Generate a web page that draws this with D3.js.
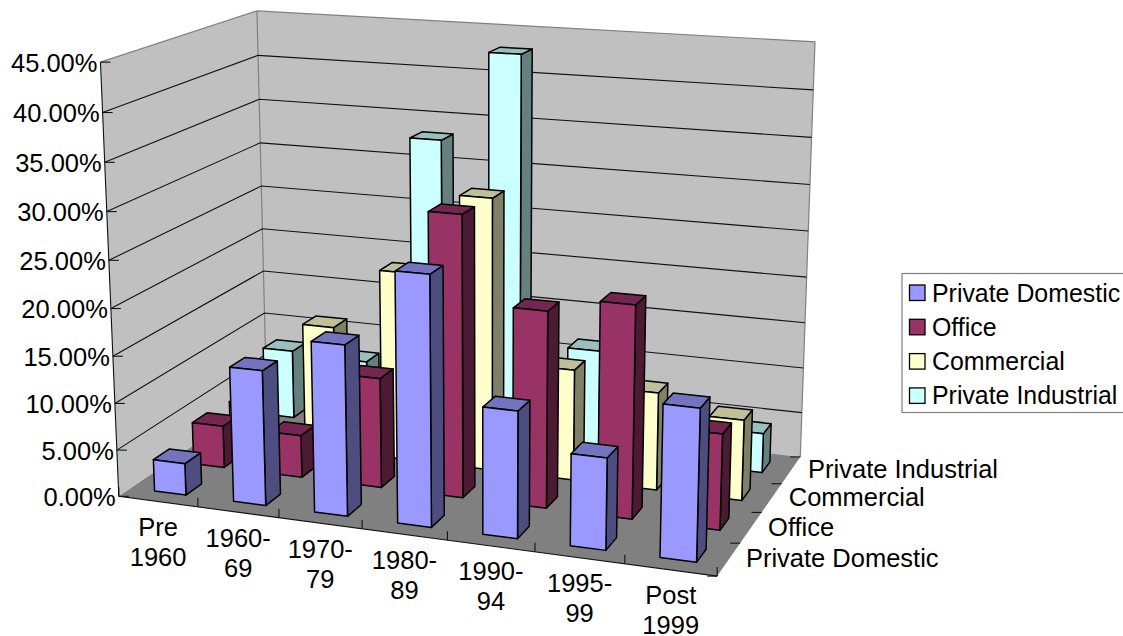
<!DOCTYPE html>
<html><head><meta charset="utf-8">
<script src="https://cdn.jsdelivr.net/npm/d3@7"></script>
<style>
html,body{margin:0;padding:0;background:#fff;overflow:hidden}
text{font-family:"Liberation Sans",Arial,sans-serif;font-size:25.5px;fill:#000}
text.legend-label{font-size:24.9px}
</style></head><body>
<svg id="chart" width="1123" height="636"></svg>
<script>
const categories = [["Pre","1960"],["1960-","69"],["1970-","79"],["1980-","89"],["1990-","94"],["1995-","99"],["Post","1999"]];
const seriesNames = ["Private Domestic","Office","Commercial","Private Industrial"];
const privateDomestic = [3.4,14.3,17.9,25.9,13.1,9.4,15.4];
const office = [4.6,4.6,11.8,29.8,20.7,22.2,10.0];
const commercial = [4.2,13.9,20.7,29.5,12.0,10.5,8.6];
const privateIndustrial = [7.8,7.5,33.2,43.0,11.5,5.0,4.3];
const seriesValues = [privateDomestic,office,commercial,privateIndustrial];
const yTicks = [0,5,10,15,20,25,30,35,40,45];

// face colours per series: front, top, side
const palette = [
  ["#9999FF","#7373BF","#4D4D80"],
  ["#993366","#732650","#4D1A33"],
  ["#FFFFCC","#BFBF99","#808066"],
  ["#CCFFFF","#99BFBF","#668080"]
];

// Perspective box: unit-cube corners (u along categories, v into depth, h up) and where they land.
const anchors = [
  [0,0,0,118.3,495],[1,0,0,717.5,577],[0,1,0,267,397],[1,1,0,800,456],
  [0,0,1,100.7,62.7],[0,1,1,256.7,10.3],[1,1,1,815,42]
];

function solveLinear(A,b){
  const n=b.length, M=A.map((r,i)=>[...r,b[i]]);
  for(let c=0;c<n;c++){
    let p=c; for(let r=c+1;r<n;r++) if(Math.abs(M[r][c])>Math.abs(M[p][c])) p=r;
    [M[c],M[p]]=[M[p],M[c]];
    for(let r=0;r<n;r++){ if(r===c) continue;
      const f=M[r][c]/M[c][c];
      for(let k=c;k<=n;k++) M[r][k]-=f*M[c][k];
    }
  }
  return M.map((r,i)=>r[n]/r[i]);
}
// Least-squares fit of the 11 projective coefficients
function fitCamera(pts){
  const rows=[],rhs=[];
  pts.forEach(([u,v,h,x,y])=>{
    rows.push([u,v,h,1,0,0,0,0,-x*u,-x*v,-x*h]); rhs.push(x);
    rows.push([0,0,0,0,u,v,h,1,-y*u,-y*v,-y*h]); rhs.push(y);
  });
  const N=d3.range(11).map(i=>d3.range(11).map(j=>d3.sum(rows,r=>r[i]*r[j])));
  const B=d3.range(11).map(i=>d3.sum(rows,(r,k)=>r[i]*rhs[k]));
  return solveLinear(N,B);
}
const cam=fitCamera(anchors);
const project=(u,v,h)=>{
  const w=cam[8]*u+cam[9]*v+cam[10]*h+1;
  return [(cam[0]*u+cam[1]*v+cam[2]*h+cam[3])/w,(cam[4]*u+cam[5]*v+cam[6]*h+cam[7])/w];
};

const catIdx=d3.range(categories.length), serIdx=d3.range(seriesNames.length);
const uScale=d3.scaleBand().domain(catIdx).range([0,1]).paddingInner(0.6).paddingOuter(0.3);
const vScale=d3.scaleBand().domain(serIdx).range([0,1]).paddingInner(0.6).paddingOuter(0.3);
const hScale=d3.scaleLinear().domain([0,45]).range([0,1]);

const svg=d3.select("#chart");
const poly=pts=>pts.map(p=>p.map(n=>n.toFixed(2)).join(",")).join(" ");
const line=d3.line();

// Walls and floor
const walls=svg.append("g");
walls.append("polygon").attr("points",poly([project(0,0,0),project(0,1,0),project(0,1,1),project(0,0,1)])).attr("fill","#C0C0C0");
walls.append("polygon").attr("points",poly([project(0,1,0),project(1,1,0),project(1,1,1),project(0,1,1)])).attr("fill","#C0C0C0");
walls.append("polygon").attr("points",poly([project(0,0,0),project(1,0,0),project(1,1,0),project(0,1,0)])).attr("fill","#808080");
walls.append("path").attr("d",line([project(0,0,1),project(0,1,1),project(1,1,1),project(1,1,0)]))
  .attr("fill","none").attr("stroke","#808080").attr("stroke-width",1.2);
walls.append("path").attr("d",line([project(0,1,1),project(0,1,0)]))
  .attr("fill","none").attr("stroke","#808080").attr("stroke-width",1.2);

// Gridlines wrap the left and back walls
yTicks.filter(t=>t>0&&t<45).forEach(t=>{
  const h=hScale(t);
  svg.append("path").attr("d",line([project(0,0,h),project(0,1,h),project(1,1,h)]))
    .attr("fill","none").attr("stroke","#111").attr("stroke-width",1.1);
});

// Axis lines and ticks
const axes=svg.append("g").attr("stroke","#111").attr("stroke-width",1.1).attr("fill","none");
axes.append("path").attr("d",line([project(0,0,1),project(0,0,0),project(1,0,0)]));
yTicks.forEach(t=>{
  const [x,y]=project(0,0,hScale(t));
  axes.append("path").attr("d",line([[x,y],[x+10,y]]));
});
d3.range(categories.length+1).forEach(i=>{
  const [x,y]=project(i/categories.length,0,0);
  axes.append("path").attr("d",line([[x,y],[x,y-9]]));
});
d3.range(seriesNames.length+1).forEach(i=>{
  const [x,y]=project(1,i/seriesNames.length,0);
  axes.append("path").attr("d",line([[x,y],[x-10,y]]));
});

// Bars, deepest series first and left to right within a series
const bars=svg.append("g").attr("stroke","#000").attr("stroke-width",1.5).attr("stroke-linejoin","round");
[...serIdx].reverse().forEach(s=>{
  catIdx.forEach(c=>{
    const u0=uScale(c),u1=u0+uScale.bandwidth(),v0=vScale(s),v1=v0+vScale.bandwidth(),h=hScale(seriesValues[s][c]);
    const [front,top,side]=palette[s];
    bars.append("polygon").attr("fill",side).attr("points",poly([project(u1,v0,0),project(u1,v1,0),project(u1,v1,h),project(u1,v0,h)]));
    bars.append("polygon").attr("fill",top).attr("points",poly([project(u0,v0,h),project(u1,v0,h),project(u1,v1,h),project(u0,v1,h)]));
    bars.append("polygon").attr("fill",front).attr("points",poly([project(u0,v0,0),project(u1,v0,0),project(u1,v0,h),project(u0,v0,h)]));
  });
});

// Value labels
yTicks.forEach(t=>{
  const [x,y]=project(0,0,hScale(t));
  svg.append("text").attr("x",x-3).attr("y",y+9.5).attr("text-anchor","end").text(t.toFixed(2)+"%");
});
// Category labels, two lines under the front edge
catIdx.forEach(c=>{
  const [x,y]=project(uScale(c)+uScale.bandwidth()/2,0,0);
  const t=svg.append("text").attr("text-anchor","middle");
  categories[c].forEach((ln,i)=>t.append("tspan").attr("x",x).attr("y",y+34.5+i*30).text(ln));
});
// Depth labels beside the right floor edge
serIdx.forEach(s=>{
  const [x,y]=project(1,vScale(s)+vScale.bandwidth()/2,0);
  svg.append("text").attr("x",x+17).attr("y",y+8).text(seriesNames[s]);
});

// Legend
const legend=svg.append("g");
legend.append("rect").attr("x",902).attr("y",273.5).attr("width",240).attr("height",139).attr("fill","#fff").attr("stroke","#808080").attr("stroke-width",1.2);
serIdx.forEach(s=>{
  const y=293+s*34.3;
  legend.append("rect").attr("x",909.5).attr("y",y-8).attr("width",15.5).attr("height",15.5).attr("fill",palette[s][0]).attr("stroke","#000").attr("stroke-width",1.3);
  legend.append("text").attr("class","legend-label").attr("x",932).attr("y",y+8.5).text(seriesNames[s]);
});
</script>
</body></html>
